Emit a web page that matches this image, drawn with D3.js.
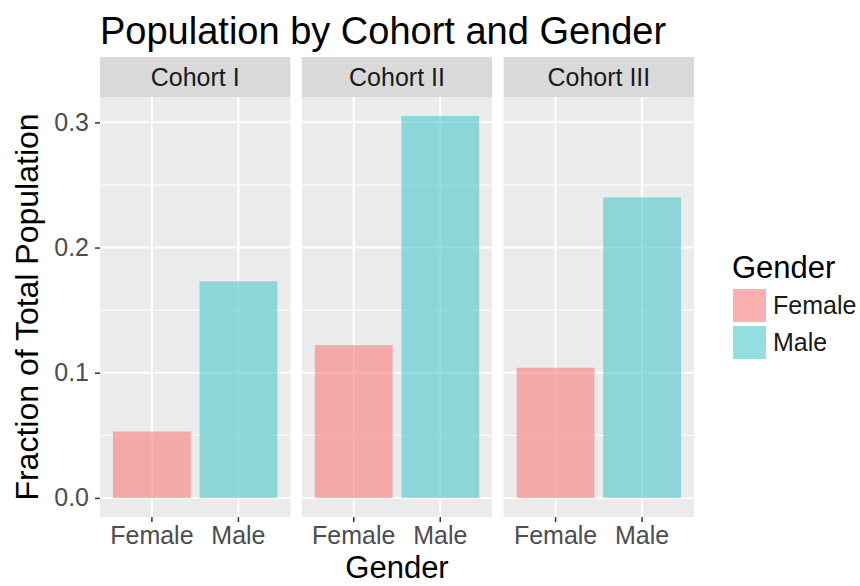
<!DOCTYPE html>
<html>
<head>
<meta charset="utf-8">
<script src="https://cdn.jsdelivr.net/npm/d3@7"></script>
<style>
  body { margin: 0; background: #fff; }
  text { font-family: "Liberation Sans", Arial, sans-serif; }
</style>
</head>
<body>
<div id="chart"></div>
<script>
// data
const cohorts = ["Cohort I", "Cohort II", "Cohort III"];
const genders = ["Female", "Male"];
const femaleValues = [0.053, 0.122, 0.104];
const maleValues = [0.173, 0.305, 0.240];
const yTicks = [0.0, 0.1, 0.2, 0.3];
const yMinorTicks = [0.05, 0.15, 0.25];

const width = 860;
const height = 586;

const rows = cohorts.map((c, i) => ({
	cohort: c,
	values: [
		{ gender: "Female", value: femaleValues[i] },
		{ gender: "Male", value: maleValues[i] },
	],
}));

const svg = d3
	.select("#chart")
	.append("svg")
	.attr("width", width)
	.attr("height", height);

// panels
const panelScale = d3
	.scaleBand()
	.domain(cohorts)
	.range([100, 694])
	.paddingInner(0.057)
	.paddingOuter(0);

const maxVal = d3.max(femaleValues.concat(maleValues));
const yScale = d3
	.scaleLinear()
	.domain([-0.05 * maxVal, 1.05 * maxVal]) // ggplot style expansion
	.range([517, 97]);

const xScale = d3
	.scaleBand()
	.domain(genders)
	.range([0, panelScale.bandwidth()])
	.paddingInner(0.1)
	.paddingOuter(0.15);

const color = d3.scaleOrdinal().domain(genders).range(["#fa7d7b", "#4dc8cf"]);

const stripTop = 57;
const panelTop = yScale.range()[1];
const panelBottom = yScale.range()[0];

const panel = svg
	.selectAll(".panel")
	.data(rows)
	.enter()
	.append("g")
	.attr("class", "panel")
	.attr("transform", (d) => `translate(${panelScale(d.cohort)}, 0)`);

panel
	.append("rect")
	.attr("x", 0)
	.attr("y", panelTop)
	.attr("width", panelScale.bandwidth())
	.attr("height", panelBottom - panelTop)
	.attr("fill", "#ebebeb");

// minor grid
panel
	.selectAll(".minor")
	.data(yMinorTicks)
	.enter()
	.append("line")
	.attr("x1", 0)
	.attr("x2", panelScale.bandwidth())
	.attr("y1", (d) => yScale(d))
	.attr("y2", (d) => yScale(d))
	.attr("stroke", "#fff")
	.attr("stroke-width", 1);

// major grid
panel
	.selectAll(".major")
	.data(yTicks)
	.enter()
	.append("line")
	.attr("x1", 0)
	.attr("x2", panelScale.bandwidth())
	.attr("y1", (d) => yScale(d))
	.attr("y2", (d) => yScale(d))
	.attr("stroke", "#fff")
	.attr("stroke-width", 2);

panel
	.selectAll(".vgrid")
	.data(genders)
	.enter()
	.append("line")
	.attr("x1", (d) => xScale(d) + xScale.bandwidth() / 2)
	.attr("x2", (d) => xScale(d) + xScale.bandwidth() / 2)
	.attr("y1", panelTop)
	.attr("y2", panelBottom)
	.attr("stroke", "#fff")
	.attr("stroke-width", 2);

// bars
panel
	.selectAll(".bar")
	.data((d) => d.values)
	.enter()
	.append("rect")
	.attr("x", (d) => xScale(d.gender))
	.attr("y", (d) => yScale(d.value))
	.attr("width", xScale.bandwidth())
	.attr("height", (d) => yScale(0) - yScale(d.value))
	.attr("fill", (d) => color(d.gender))
	.attr("fill-opacity", 0.6);

// strips
panel
	.append("rect")
	.attr("x", 0)
	.attr("y", stripTop)
	.attr("width", panelScale.bandwidth())
	.attr("height", panelTop - stripTop)
	.attr("fill", "#d9d9d9");

panel
	.append("text")
	.attr("x", panelScale.bandwidth() / 2)
	.attr("y", (stripTop + panelTop) / 2)
	.attr("dy", "0.35em")
	.attr("text-anchor", "middle")
	.attr("font-size", "25px")
	.attr("fill", "#1a1a1a")
	.text((d) => d.cohort);

// x axis per panel
panel.each(function () {
	const xAxis = d3.axisBottom(xScale).tickSize(5).tickPadding(4);
	const g = d3
		.select(this)
		.append("g")
		.attr("class", "x-axis")
		.attr("transform", `translate(0, ${panelBottom})`)
		.call(xAxis);
	g.select(".domain").remove();
	g.selectAll("line").attr("stroke", "#333").attr("stroke-width", 1.5);
	g.selectAll("text")
		.attr("font-size", "25px")
		.attr("font-family", "Liberation Sans, Arial, sans-serif")
		.attr("fill", "#4d4d4d");
});

// y axis
const yAxis = d3
	.axisLeft(yScale)
	.tickValues(yTicks)
	.tickFormat(d3.format(".1f"))
	.tickSize(5)
	.tickPadding(6);

const yg = svg
	.append("g")
	.attr("class", "y-axis")
	.attr("transform", `translate(${panelScale.range()[0]}, 0)`)
	.call(yAxis);
yg.select(".domain").remove();
yg.selectAll("line").attr("stroke", "#333").attr("stroke-width", 1.5);
yg.selectAll("text")
	.attr("font-size", "25px")
	.attr("font-family", "Liberation Sans, Arial, sans-serif")
	.attr("fill", "#4d4d4d");

// titles
svg
	.append("text")
	.attr("x", 100)
	.attr("y", 44)
	.attr("font-size", "38px")
	.attr("fill", "#000")
	.text("Population by Cohort and Gender");

svg
	.append("text")
	.attr("x", (panelScale.range()[0] + panelScale.range()[1]) / 2)
	.attr("y", 578)
	.attr("text-anchor", "middle")
	.attr("font-size", "31px")
	.attr("fill", "#000")
	.text("Gender");

svg
	.append("text")
	.attr("transform", `translate(38, ${(panelTop + panelBottom) / 2}) rotate(-90)`)
	.attr("text-anchor", "middle")
	.attr("font-size", "32px")
	.attr("fill", "#000")
	.text("Fraction of Total Population");

// legend
const legend = svg.append("g").attr("transform", "translate(732, 0)");
legend
	.append("text")
	.attr("x", 0)
	.attr("y", 278)
	.attr("font-size", "31px")
	.attr("fill", "#000")
	.text("Gender");

const key = legend
	.selectAll(".key")
	.data(genders)
	.enter()
	.append("g")
	.attr("transform", (d, i) => `translate(0, ${289 + i * 37})`);

key
	.append("rect")
	.attr("x", 1)
	.attr("y", 0)
	.attr("width", 33)
	.attr("height", 33)
	.attr("fill", (d) => color(d))
	.attr("fill-opacity", 0.6);

key
	.append("text")
	.attr("x", 41)
	.attr("y", 16.5)
	.attr("dy", "0.35em")
	.attr("font-size", "25px")
	.attr("fill", "#1a1a1a")
	.text((d) => d);
</script>
</body>
</html>
